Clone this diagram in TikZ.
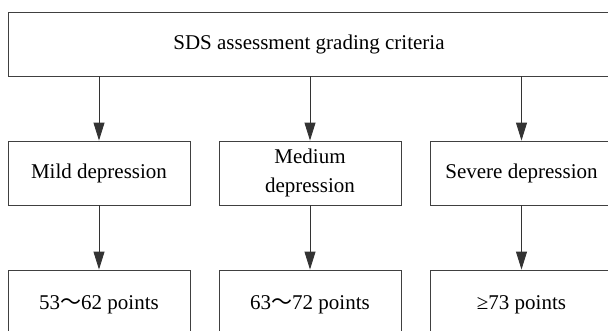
\documentclass[tikz,border=0pt]{standalone}
\usepackage{fontspec}
\setmainfont{Liberation Serif}
\newfontfamily\cjk{Noto Sans CJK SC}
\usetikzlibrary{arrows.meta, positioning}

\tikzset{
  gradebox/.style={draw=black!75, line width=0.9pt, minimum width=182pt, minimum height=64pt,
    inner sep=0pt, align=center, font=\fontsize{21}{29}\selectfont},
  gradearrow/.style={draw=black!80, line width=0.9pt, -{Triangle[length=18pt, width=11pt]}}
}

\begin{document}
\begin{tikzpicture}[x=1pt, y=-1pt]
  \useasboundingbox (0,0) rectangle (608,330);
  \clip (0,0) rectangle (608,330);
  % Titre
  \node[gradebox, minimum width=602pt] (criteria) at (309,44) {SDS assessment grading criteria};
  % Niveaux
  \node[gradebox] (mild) at (99,173) {Mild depression};
  \node[gradebox] (medium) at (310,173) {Medium\\depression};
  \node[gradebox] (severe) at (521.5,173) {Severe depression};
  % Points
  \node[gradebox, minimum height=70pt] (mildpts) at (99,305) {53{\cjk ～}62 points};
  \node[gradebox, minimum height=70pt] (mediumpts) at (310,305) {63{\cjk ～}72 points};
  \node[gradebox, minimum height=70pt] (severepts) at (521.5,305) {≥73 points};
  % Flèches
  \draw[gradearrow] (criteria.south -| mild) -- (mild);
  \draw[gradearrow] (criteria.south -| medium) -- (medium);
  \draw[gradearrow] (criteria.south -| severe) -- (severe);
  \draw[gradearrow] (mild) -- (mildpts);
  \draw[gradearrow] (medium) -- (mediumpts);
  \draw[gradearrow] (severe) -- (severepts);
\end{tikzpicture}
\end{document}
